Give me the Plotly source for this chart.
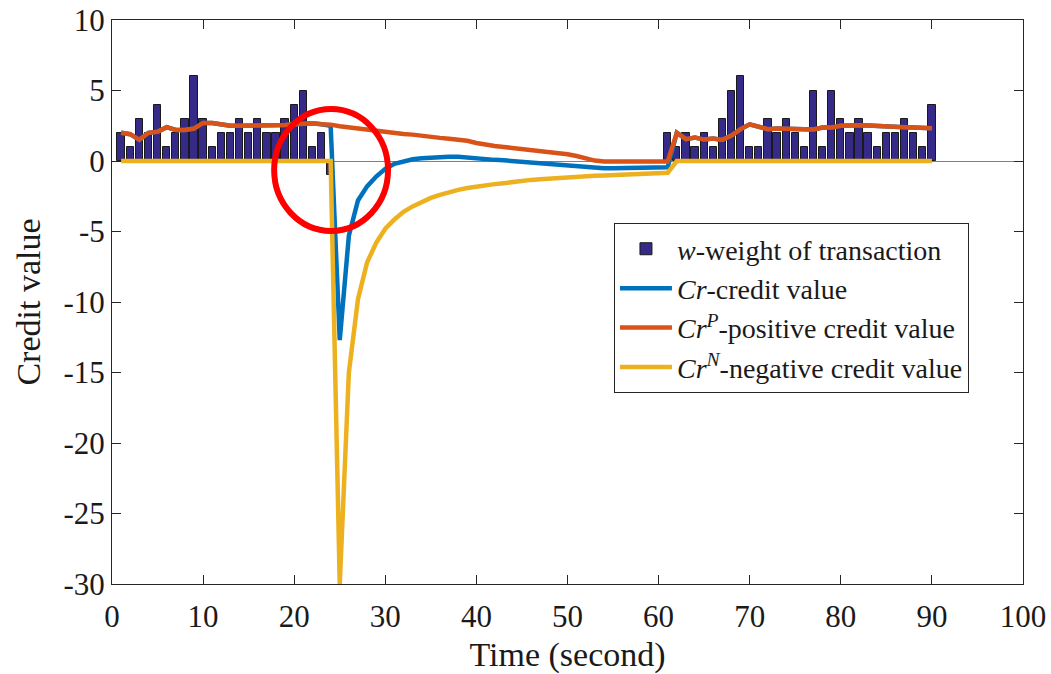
import plotly.graph_objects as go

# ---- data ----
time = list(range(1, 91))

# w - weight of transaction (bars); None = no bar
weight_left = [2, 1, 3, 2, 4, 1, 2, 3, 6, 3, 1, 2, 2, 3, 2, 3, 2, 2, 3, 4, 5, 1, 2, -1]   # t = 1..24
weight_mid = [None] * 36                                                                  # t = 25..60
weight_right = [2, 1, 2, 1, 2, 1, 3, 5, 6, 1, 1, 3, 2, 3, 2, 1, 5, 1, 5, 3, 2, 3, 2, 1, 2, 2, 3, 2, 1, 4]  # t = 61..90
weight = weight_left + weight_mid + weight_right

# Cr^P - positive credit value
cr_pos = [2.0, 1.9, 1.5, 2.0, 2.07, 2.4, 2.2, 2.2, 2.3, 2.7,
          2.7, 2.6, 2.5, 2.5, 2.5, 2.55, 2.55, 2.5, 2.55, 2.6,
          2.65, 2.67, 2.6, 2.58, 2.47, 2.38, 2.3, 2.2, 2.12, 2.05,
          1.98, 1.92, 1.87, 1.82, 1.72, 1.64, 1.58, 1.52, 1.43, 1.28,
          1.15, 1.07, 1.0, 0.93, 0.87, 0.79, 0.72, 0.65, 0.57, 0.48,
          0.35, 0.17, 0.03, -0.03, -0.03, -0.03, -0.03, -0.03, -0.03, -0.03,
          -0.03, 2.0, 1.55, 1.67, 1.52, 1.6, 1.5, 1.8, 2.26, 2.6,
          2.4, 2.26, 2.3, 2.3, 2.3, 2.26, 2.24, 2.38, 2.38, 2.5,
          2.55, 2.53, 2.52, 2.48, 2.4, 2.4, 2.4, 2.38, 2.33, 2.33]

# Cr - credit value
cr = [2.0, 1.9, 1.5, 2.0, 2.07, 2.4, 2.2, 2.2, 2.3, 2.7,
      2.7, 2.6, 2.5, 2.5, 2.5, 2.55, 2.55, 2.5, 2.55, 2.6,
      2.65, 2.67, 2.6, 2.5, -12.7, -5.3, -2.8, -1.8, -1.1, -0.55,
      -0.2, 0.0, 0.12, 0.2, 0.25, 0.28, 0.3, 0.3, 0.25, 0.12,
      0.1, 0.08, 0.05, 0.0, -0.05, -0.1, -0.15, -0.2, -0.25, -0.3,
      -0.38, -0.45, -0.5, -0.52, -0.52, -0.5, -0.5, -0.5, -0.5, -0.48,
      -0.45, 2.0, 1.55, 1.67, 1.52, 1.6, 1.5, 1.8, 2.26, 2.6,
      2.4, 2.26, 2.3, 2.3, 2.3, 2.26, 2.24, 2.38, 2.38, 2.5,
      2.55, 2.53, 2.52, 2.48, 2.4, 2.4, 2.4, 2.38, 2.33, 2.33]

# Cr^N - negative credit value
cr_neg = [0.0] * 24 + [
    -30.0, -15.0, -9.8, -7.2, -5.8, -4.8, -4.15, -3.6, -3.22, -2.9,
    -2.62, -2.4, -2.2, -2.05, -1.92, -1.8, -1.72, -1.64, -1.57, -1.47,
    -1.4, -1.34, -1.29, -1.24, -1.2, -1.16, -1.12, -1.08, -1.05, -1.02,
    -0.99, -0.96, -0.93, -0.9, -0.87, -0.85, -0.83] + [0.0] * 29

x_ticks = list(range(0, 101, 10))
y_ticks = list(range(-30, 11, 5))
y_ticktext = ["-30", "-25", "-20", "-15", "-10", "-5", "0", "5", "10"]

FONT = "Liberation Serif"
AX = "#262626"

fig = go.Figure()
fig.add_trace(go.Bar(x=time, y=weight, width=0.8,
                     marker=dict(color="#352A87", line=dict(color="#1a1a1a", width=1)),
                     name="<i>w</i>-weight of transaction"))
fig.add_trace(go.Scatter(x=time, y=cr, mode="lines",
                         line=dict(color="#0072BD", width=4.5),
                         name="<i>Cr</i>-credit value"))
fig.add_trace(go.Scatter(x=time, y=cr_pos, mode="lines",
                         line=dict(color="#D95319", width=4.5),
                         name="<i>Cr</i><sup><i>P</i></sup>-positive credit value"))
fig.add_trace(go.Scatter(x=time, y=cr_neg, mode="lines",
                         line=dict(color="#EDB120", width=4.5),
                         name="<i>Cr</i><sup><i>N</i></sup>-negative credit value"))

# red highlight circle
fig.add_shape(type="circle", xref="x", yref="y", x0=17.8, x1=30.3, y0=-4.96, y1=3.68,
              line=dict(color="#FF0000", width=6))

fig.update_layout(
    width=1051, height=674,
    margin=dict(l=112, r=28, t=20, b=90, autoexpand=False),
    paper_bgcolor="white", plot_bgcolor="white",
    font=dict(family=FONT, color="#1a1a1a"),
    showlegend=True,
    bargap=0,
    legend=dict(x=0.551, y=0.640, xanchor="left", yanchor="top",
                bgcolor="white", bordercolor=AX, borderwidth=1,
                font=dict(family=FONT, size=28, color="#1a1a1a"),
                tracegroupgap=0, itemwidth=52),
    xaxis=dict(range=[0, 100], tickvals=x_ticks, ticks="inside", ticklen=9,
               tickcolor=AX, showline=True, linecolor=AX, linewidth=1,
               mirror="ticks", showgrid=False, zeroline=False, automargin=False,
               tickfont=dict(family=FONT, size=31), ticklabelstandoff=5,
               title=dict(text="Time (second)", font=dict(family=FONT, size=34), standoff=12)),
    yaxis=dict(range=[-30, 10], tickvals=y_ticks, ticktext=y_ticktext,
               ticks="inside", ticklen=9,
               tickcolor=AX, showline=True, linecolor=AX, linewidth=1,
               mirror="ticks", showgrid=False, zeroline=True,
               zerolinecolor="#808080", zerolinewidth=1, automargin=False,
               tickfont=dict(family=FONT, size=31),
               title=dict(text="Credit value", font=dict(family=FONT, size=34), standoff=12)),
)

# remove the browser's default 8px body margin so the figure fills the window
fig.write_html("out.html", config={"displayModeBar": False},
               post_script="document.body.style.margin='0px';")
